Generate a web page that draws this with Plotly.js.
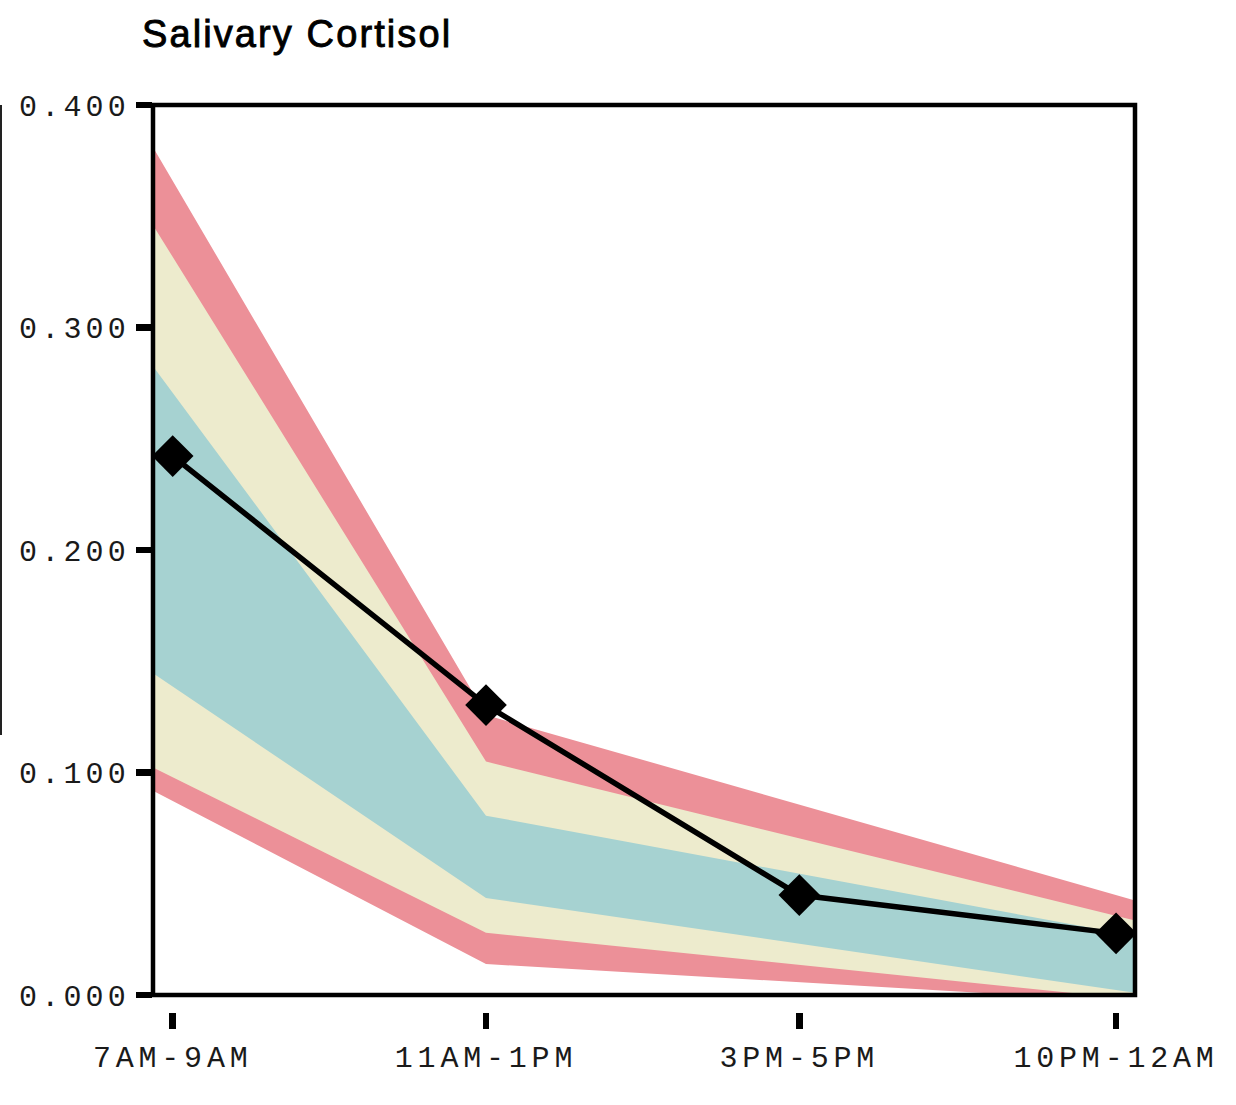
<!DOCTYPE html>
<html>
<head>
<meta charset="utf-8">
<script src="https://cdn.plot.ly/plotly-3.0.1.min.js"></script>
<style>
  html, body { margin: 0; padding: 0; background: #fff; }
  .ytick text { letter-spacing: 4.2px; }
  .xtick text { letter-spacing: 4.8px; }
  .gtitle { letter-spacing: 2.1px; stroke: #000; stroke-width: 0.9px; }
</style>
</head>
<body>
<div id="chart" style="width:1236px;height:1105px;"></div>
<script>
// Categories and their positions on the x axis
var categories = ["7AM-9AM", "11AM-1PM", "3PM-5PM", "10PM-12AM"];
var catX = [0, 1, 2, 3.011];

// Mean salivary cortisol per time window
var meanValues = [0.2422, 0.1303, 0.0449, 0.0277];

// Reference band boundaries (left edge, 11AM-1PM, right edge)
var bandX = [-0.0629, 1, 3.0715];
var redTop      = [0.3810, 0.1258, 0.0425];
var creamTop    = [0.3460, 0.1049, 0.0335];
var tealTop     = [0.2826, 0.0806, 0.0265];
var tealBottom  = [0.1446, 0.0436, 0.0010];
var creamBottom = [0.1023, 0.0280, -0.0020];
var redBottom   = [0.0918, 0.0139, -0.0030];

var yTicks = [0, 0.1, 0.2, 0.3, 0.4];

function band(upper, lower, color, name) {
  var xs = bandX.concat(bandX.slice().reverse());
  var ys = upper.concat(lower.slice().reverse());
  return {
    x: xs, y: ys, type: 'scatter', mode: 'lines',
    fill: 'toself', fillcolor: color,
    line: {width: 0, color: color},
    hoverinfo: 'skip', showlegend: false, name: name
  };
}

var traces = [
  band(redTop, redBottom, '#EC9098', 'outer'),
  band(creamTop, creamBottom, '#EDEBCD', 'middle'),
  band(tealTop, tealBottom, '#A6D2D1', 'inner'),
  {
    x: catX, y: meanValues, type: 'scatter', mode: 'lines+markers',
    line: {color: '#000', width: 5.5},
    marker: {symbol: 'diamond', size: 32, color: '#000'},
    cliponaxis: false, showlegend: false, name: 'Cortisol'
  }
];

var monoFont = {family: 'Liberation Mono, DejaVu Sans Mono, monospace', size: 30, color: '#1a1a1a'};

var layout = {
  width: 1236, height: 1105,
  margin: {l: 153, r: 101, t: 105, b: 93, pad: 0},
  paper_bgcolor: '#fff', plot_bgcolor: '#fff',
  showlegend: false,
  title: {
    text: 'Salivary Cortisol',
    font: {family: 'Liberation Sans, Arial, sans-serif', size: 38, color: '#000'},
    xref: 'container', yref: 'container',
    x: 142 / 1236, xanchor: 'left',
    y: 1 - 34 / 1105, yanchor: 'middle'
  },
  xaxis: {
    range: [bandX[0], bandX[2]],
    anchor: 'free', position: 0,
    tickmode: 'array', tickvals: catX, ticktext: categories,
    ticks: 'outside', ticklen: 16, tickwidth: 6.5, tickcolor: '#000',
    ticklabelstandoff: 2,
    showline: false, showgrid: false, zeroline: false,
    tickfont: monoFont
  },
  yaxis: {
    range: [0, 0.4],
    domain: [17 / 907, 1],
    tickmode: 'array', tickvals: yTicks, tickformat: '.3f',
    ticks: 'outside', ticklen: 16, tickwidth: 6.5, tickcolor: '#000',
    showline: false, showgrid: false, zeroline: false,
    tickfont: monoFont
  },
  shapes: [
    {type: 'rect', xref: 'x domain', yref: 'y domain', x0: 0, x1: 1, y0: 0, y1: 1,
     line: {color: '#000', width: 4.5}, fillcolor: 'rgba(0,0,0,0)', layer: 'above'},
    {type: 'line', xref: 'paper', yref: 'paper', x0: -152 / 982, x1: -152 / 982,
     y0: (1012 - 735) / 907, y1: 1, line: {color: '#222', width: 2}}
  ]
};

Plotly.newPlot('chart', traces, layout, {staticPlot: true, displayModeBar: false});
</script>
</body>
</html>
